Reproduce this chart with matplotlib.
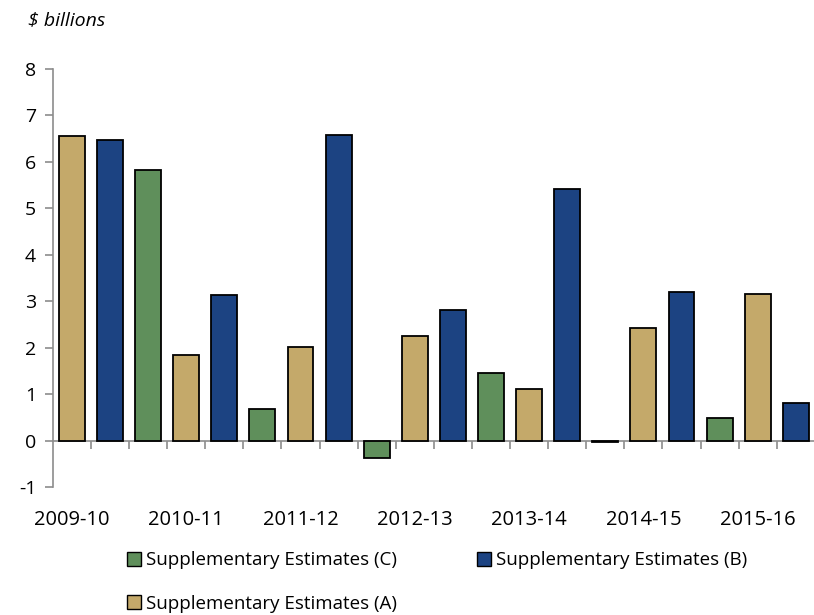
import matplotlib.pyplot as plt
import numpy as np
from matplotlib.patches import Patch

plt.rcParams['font.family'] = ['Open Sans', 'DejaVu Sans']

# Bars in order, one per slot (A, B, C within each year)
series = ["A", "B", "C", "A", "B", "C", "A", "B", "C", "A",
          "B", "C", "A", "B", "C", "A", "B", "C", "A", "B"]
values = [6.56, 6.48, 5.83, 1.85, 3.14, 0.69, 2.02, 6.58, -0.37, 2.26,
          2.82, 1.46, 1.12, 5.42, -0.03, 2.43, 3.20, 0.49, 3.16, 0.82]
year_labels = ["2009-10", "2010-11", "2011-12", "2012-13",
               "2013-14", "2014-15", "2015-16"]
legend_names = {"C": "Supplementary Estimates (C)",
                "B": "Supplementary Estimates (B)",
                "A": "Supplementary Estimates (A)"}
colors = {"A": "#C4A96A", "B": "#1C4382", "C": "#5F8F5B"}

fig = plt.figure(figsize=(8.14, 6.15), dpi=100)
ax = fig.add_axes([0.065, 0.208, 0.936, 0.68])

x = np.arange(len(values))
ax.bar(x, values, width=0.68, color=[colors[s] for s in series],
       edgecolor="black", linewidth=1.3, zorder=3)

ax.set_xlim(-0.5, len(values) - 0.5)
ax.set_ylim(-1, 8)
ax.set_yticks(range(-1, 9))
ax.set_yticklabels([str(v) for v in range(-1, 9)])

gray = "#8C8C8C"
for s in ["top", "right"]:
    ax.spines[s].set_visible(False)
ax.spines["left"].set_color(gray)
ax.spines["left"].set_linewidth(1.2)
ax.spines["bottom"].set_position(("data", 0))
ax.spines["bottom"].set_color(gray)
ax.spines["bottom"].set_linewidth(1.2)

ax.tick_params(axis="y", direction="out", length=6, width=1.2, color=gray,
               labelsize=14, pad=6)
ax.set_xticks(x[::3])
ax.set_xticklabels(year_labels)
ax.set_xticks(np.arange(0.5, len(values), 1), minor=True)
ax.tick_params(axis="x", which="major", length=0, labelsize=14.5, pad=50)
ax.tick_params(axis="x", which="minor", direction="out", length=6,
               width=1.2, color=gray)

fig.text(0.034, 0.967, "$ billions", fontsize=14, style="italic",
         va="center", ha="left")

# column-major fill: C, A in first column, B in second
handles = [Patch(facecolor=colors[k], edgecolor="black", label=legend_names[k])
           for k in ["C", "A", "B"]]
fig.legend(handles=handles, loc="lower left", bbox_to_anchor=(0.135, -0.024),
           ncol=2, frameon=False, fontsize=13.5, handlelength=0.75,
           handleheight=0.75, handletextpad=0.25, columnspacing=4.3,
           labelspacing=1.36)

fig.savefig("out.png", dpi=100)
